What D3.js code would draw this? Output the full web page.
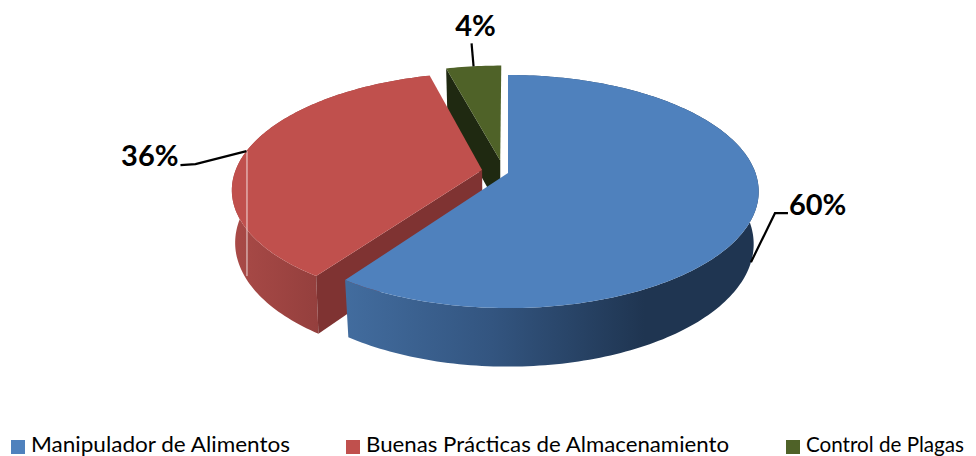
<!DOCTYPE html>
<html>
<head>
<meta charset="utf-8">
<script src="https://cdn.jsdelivr.net/npm/d3@7"></script>
<style>
  html, body { margin: 0; padding: 0; background: #fff; }
  svg { display: block; }
</style>
</head>
<body>
<div id="chart"></div>
<script>
  const categories = ['Manipulador de Alimentos', 'Buenas Prácticas de Almacenamiento', 'Control de Plagas'];
  const values = [59.7, 36.1, 4.2];
  const colors = ['#4f81bd', '#c0504d', '#4f6228'];
  const innerWall = [null, '#7f3332', '#1f2911'];

  /* pie geometry: unit disk seen through a small perspective */
  const W = 976, H = 456;
  const cx = 508, cy = 173, a = 247.5, b = 113.6, persp = 0.159;
  const depth = 51.5;
  const shrink = [0.02, 0.012, 0.02];
  // how far each slice is pulled out, in disk units
  const explode = [[0, 0], [-0.105, -0.027], [-0.032, -0.113]];
  // leader elbows relative to the anchor on the rim, then label anchor
  const leaders = [
    { low: true, elbows: [[24, -49], [37, -49]], text: [38, -47], anchor: 'start' },
    { low: false, elbows: [[-51, 13], [-66, 14]], text: [-68, 15], anchor: 'end' },
    { low: false, elbows: [[-2, -23]], text: [2, -30], anchor: 'middle' }
  ];
  // legend text widths, the fallback font runs wider than the original
  const legendWidths = [259, 363, 158];

  const svg = d3.select('#chart').append('svg')
    .attr('width', W).attr('height', H)
    .attr('font-family', 'Lato, sans-serif');
  const defs = svg.append('defs');

  const pie = d3.pie().sort(null)(values);
  const line = d3.line();

  const project = (i, theta, r, low) => {
    const u = r * Math.sin(theta) + explode[i][0];
    const v = -r * Math.cos(theta) + explode[i][1];
    const w = 1 - persp * v;
    const k = low ? 1 - shrink[i] : 1;
    return [cx + k * a * u / w, cy + k * b * v / w + (low ? depth / w : 0)];
  };
  const arcPoints = (i, t0, t1, low) => {
    const n = Math.max(2, Math.ceil((t1 - t0) / 0.02));
    return d3.range(n + 1).map(j => project(i, t0 + (t1 - t0) * j / n, 1, low));
  };

  const gradient = (id, x0, x1, stops) => {
    const g = defs.append('linearGradient').attr('id', id)
      .attr('gradientUnits', 'userSpaceOnUse')
      .attr('x1', x0).attr('x2', x1).attr('y1', 0).attr('y2', 0);
    stops.forEach(s => g.append('stop').attr('offset', s[0]).attr('stop-color', s[1]));
  };
  gradient('wall0', 347, 760, [[0, '#426c9e'], [0.35, '#335580'], [0.72, '#1f3551'], [1, '#1f3551']]);
  gradient('wall1', 233, 320, [[0, '#a94a47'], [1, '#943f3d']]);

  // back to front: green, red, blue
  [2, 1, 0].forEach(i => {
    const s = pie[i];
    const g = svg.append('g').attr('class', 'slice');

    if (i !== 2) {
      const top = arcPoints(i, s.startAngle, s.endAngle, false);
      const bottom = arcPoints(i, s.startAngle, s.endAngle, true).reverse();
      g.append('path')
        .attr('d', line(top.concat(bottom)) + 'Z')
        .attr('fill', `url(#wall${i})`);
    }
    if (innerWall[i]) {
      // radial wall on the side facing the viewer
      const t = s.startAngle;
      g.append('path')
        .attr('d', line([
          project(i, t, 0, false), project(i, t, 1, false),
          project(i, t, 1, true), project(i, t, 0, true)
        ]) + 'Z')
        .attr('fill', innerWall[i]);
    }
    g.append('path')
      .attr('d', line([project(i, 0, 0, false)].concat(arcPoints(i, s.startAngle, s.endAngle, false))) + 'Z')
      .attr('fill', colors[i]);
  });

  // thin light seam on the red slice, below its leader
  const seamTop = project(1, (pie[1].startAngle + pie[1].endAngle) / 2, 1, false);
  svg.append('line')
    .attr('x1', seamTop[0] + 0.5).attr('x2', seamTop[0] + 0.5)
    .attr('y1', seamTop[1]).attr('y2', seamTop[1] + 125)
    .attr('stroke', '#fff').attr('stroke-opacity', 0.8).attr('stroke-width', 1);

  // leader lines and percent labels
  pie.forEach((s, i) => {
    const l = leaders[i];
    const p = project(i, (s.startAngle + s.endAngle) / 2, 1, l.low);
    const pts = [p].concat(l.elbows.map(e => [p[0] + e[0], p[1] + e[1]]));
    svg.append('path')
      .attr('d', line(pts))
      .attr('fill', 'none').attr('stroke', '#000').attr('stroke-width', 2.2);
    svg.append('text')
      .attr('x', p[0] + l.text[0]).attr('y', p[1] + l.text[1])
      .attr('text-anchor', l.anchor)
      .attr('font-size', 29).attr('font-weight', 700).attr('fill', '#000')
      .text(d3.format('.0f')(s.value) + '%');
  });

  // legend
  const legendX = d3.scaleOrdinal().domain(categories).range([11, 346, 786]);
  const legend = svg.append('g').selectAll('g').data(categories).join('g')
    .attr('transform', d => `translate(${legendX(d)},440)`);
  legend.append('rect')
    .attr('width', 14).attr('height', 14)
    .attr('fill', (d, i) => colors[i]);
  legend.append('text')
    .attr('x', 20).attr('y', 11.5)
    .attr('font-size', 21).attr('fill', '#000')
    .attr('textLength', (d, i) => legendWidths[i])
    .attr('lengthAdjust', 'spacingAndGlyphs')
    .text(d => d);
</script>
</body>
</html>
